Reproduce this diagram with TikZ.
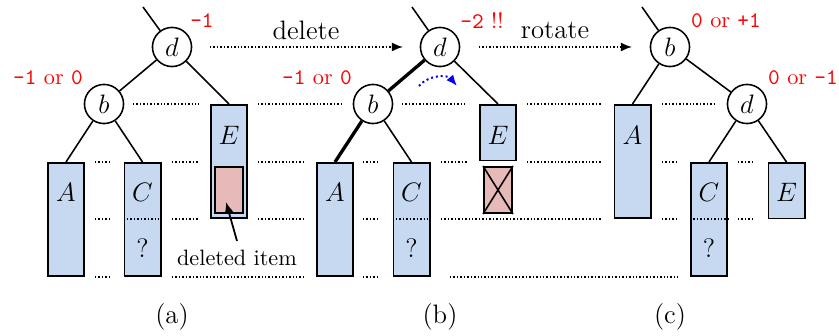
\documentclass[tikz,border=0pt]{standalone}
\usetikzlibrary{arrows.meta}
\definecolor{boxblue}{RGB}{198,217,241}
\definecolor{delpink}{RGB}{230,186,185}
\begin{document}
\begin{tikzpicture}[x=0.45pt,y=-0.45pt,
 vtx/.style={circle,draw,line width=0.7pt,minimum size=17.6pt,inner sep=0pt,font=\large,fill=white},
 box/.style={draw,fill=boxblue,line width=0.7pt,minimum width=16.4pt,inner sep=0pt,anchor=north},
 boxtall/.style={minimum height=51pt},
 boxshort/.style={minimum height=25pt},
 delbox/.style={draw,fill=delpink,line width=0.7pt,minimum width=12.8pt,minimum height=20.9pt,inner sep=0pt},
 lbl/.style={font=\large,inner sep=0pt},
 edge/.style={line width=0.7pt},
 heavy/.style={line width=1.5pt},
 guide/.style={line width=0.65pt,dash pattern=on 0.65pt off 0.9pt},
 bal/.style={text=red,inner sep=0pt},
 tip/.style={-{Latex[length=5pt,width=4pt]}},
]
\useasboundingbox (0,0) rectangle (839,336);

% ---------- guide lines ----------
\foreach \a/\b in {133/199,258/343,402/467,527/602,662/717}
  \draw[guide] (\a,104) -- (\b,104);
\foreach \a/\b in {95/112,172/198,258/305,363/380,441/467,527/602,662/678,738/755}
  \draw[guide] (\a,162) -- (\b,162);
\foreach \a/\b in {95/112,172/198,258/305,363/380,441/602,662/678,738/755}
  \draw[guide] (\a,219) -- (\b,219);
\foreach \a/\b in {95/112,172/305,363/380,450/678}
  \draw[guide] (\a,277) -- (\b,277);

% ---------- (a) ----------
\node[box,boxtall] (Aa) at (66,162) {};
\node[box,boxtall] (Ca) at (142.5,162) {};
\node[box,boxtall] (Ea) at (229,104) {};
\draw[guide] (Ca.west |- 0,219) -- (Ca.east |- 0,219);
\node[delbox] (dela) at (229,190) {};
\node[lbl] (Aat) at (66,192) {$A$};
\node[lbl] (Cat) at (142.5,192) {$C$};
\node[lbl] (Caq) at (142.5,248) {?};
\node[lbl] (Eat) at (229,135) {$E$};
\node[vtx] (da) at (172,47) {$d$};
\node[vtx] (ba) at (104,104) {$b$};
\coordinate (pa) at (143,7);
\draw[edge] (pa) -- (da);
\draw[edge] (da) -- (ba);
\draw[edge] (da) -- (Ea.north);
\draw[edge] (ba) -- (Aa.north);
\draw[edge] (ba) -- (Ca.north);
\node[bal] (rda) at (202,21) {\texttt{-1}};
\node[bal] (rba) at (48,78) {\texttt{-1} or \texttt{0}};
\node[inner sep=0pt] (delt) at (237,258) {deleted item};
\coordinate (deltail) at (237,241);
\coordinate (delhead) at (226,202);
\draw[line width=0.8pt,tip] (deltail) -- (delhead);
\node[lbl] (capa) at (172,317) {(a)};

% ---------- arrows between ----------
\coordinate (dl1) at (210,47);
\coordinate (dl2) at (403,47);
\draw[guide,tip] (dl1) -- (dl2);
\node[lbl] (deltxt) at (306,30) {delete};
\coordinate (rt1) at (479,47);
\coordinate (rt2) at (632,47);
\draw[guide,tip] (rt1) -- (rt2);
\node[lbl] (rottxt) at (555,30) {rotate};

% ---------- (b) ----------
\node[box,boxtall] (Ab) at (335,162) {};
\node[box,boxtall] (Cb) at (411.5,162) {};
\node[box,boxshort] (Eb) at (498,104) {};
\draw[guide] (Cb.west |- 0,219) -- (Cb.east |- 0,219);
\node[delbox] (delb) at (498,190) {};
\draw[edge] (delb.north west) -- (delb.south east);
\draw[edge] (delb.north east) -- (delb.south west);
\node[lbl] (Abt) at (335,192) {$A$};
\node[lbl] (Cbt) at (411.5,192) {$C$};
\node[lbl] (Cbq) at (411.5,248) {?};
\node[lbl] (Ebt) at (498,135) {$E$};
\node[vtx] (db) at (440,47) {$d$};
\node[vtx] (bb) at (373,104) {$b$};
\coordinate (pb) at (412,7);
\draw[edge] (pb) -- (db);
\draw[heavy] (db) -- (bb);
\draw[edge] (db) -- (Eb.north);
\draw[heavy] (bb) -- (Ab.north);
\draw[edge] (bb) -- (Cb.north);
\coordinate (arc1) at (419,86);
\coordinate (arc2) at (457,86);
\draw[blue,line width=0.9pt,dash pattern=on 0.9pt off 1.3pt,tip] (arc1) to[bend left=50] (arc2);
\node[bal] (rdb) at (482,21) {\texttt{-2} !!};
\node[bal] (rbb) at (317,78) {\texttt{-1} or \texttt{0}};
\node[lbl] (capb) at (440,317) {(b)};

% ---------- (c) ----------
\node[box,boxtall] (Ac) at (632.5,104) {};
\node[box,boxtall] (Cc) at (709,162) {};
\node[box,boxshort] (Ec) at (786.5,162) {};
\draw[guide] (Cc.west |- 0,219) -- (Cc.east |- 0,219);
\node[lbl] (Act) at (632.5,135) {$A$};
\node[lbl] (Cct) at (709,192) {$C$};
\node[lbl] (Ccq) at (709,248) {?};
\node[lbl] (Ect) at (786.5,192) {$E$};
\node[vtx] (bc) at (670,47) {$b$};
\node[vtx] (dc) at (747,104) {$d$};
\coordinate (pc) at (642,7);
\draw[edge] (pc) -- (bc);
\draw[edge] (bc) -- (Ac.north);
\draw[edge] (bc) -- (dc);
\draw[edge] (dc) -- (Cc.north);
\draw[edge] (dc) -- (Ec.north);
\node[bal] (rbc) at (726,21) {\texttt{0} or \texttt{+1}};
\node[bal] (rdc) at (803,78) {\texttt{0} or \texttt{-1}};
\node[lbl] (capc) at (670,317) {(c)};
\end{tikzpicture}
\end{document}
